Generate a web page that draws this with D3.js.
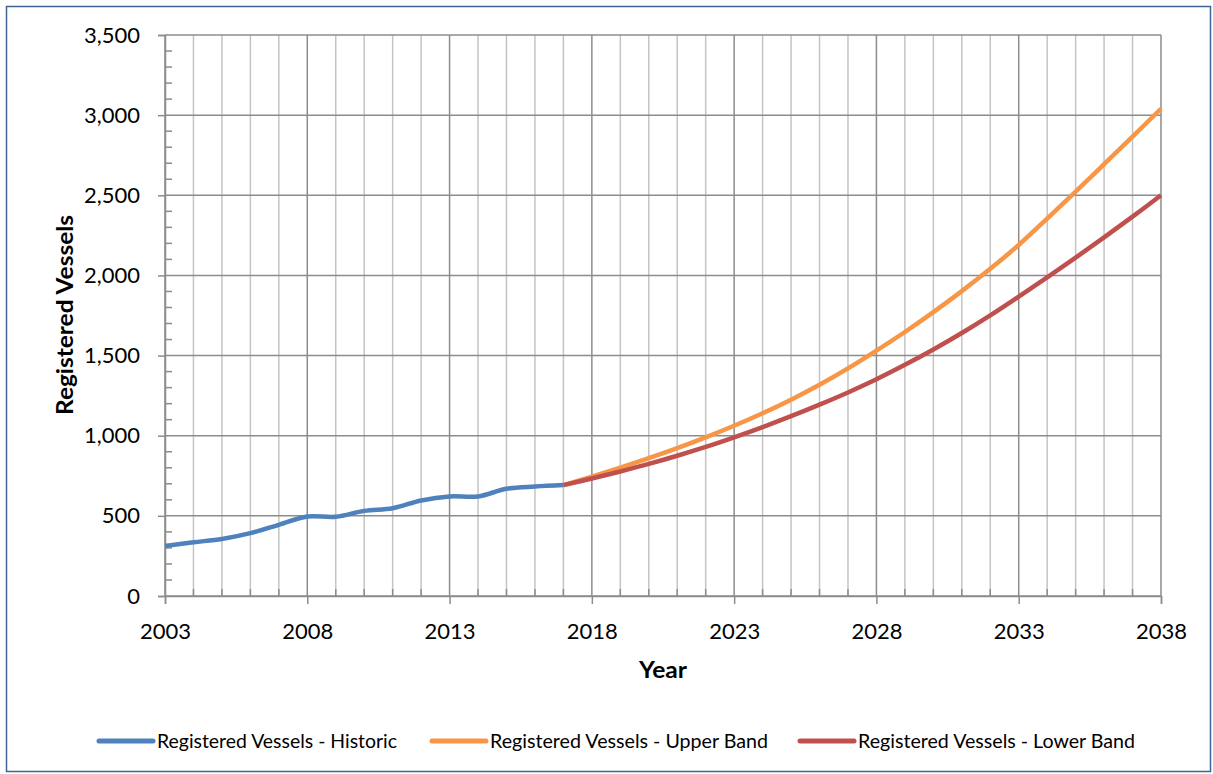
<!DOCTYPE html>
<html>
<head>
<meta charset="utf-8">
<script src="https://cdn.jsdelivr.net/npm/d3@7"></script>
<style>
  html, body { margin: 0; padding: 0; background: #fff; }
  svg { display: block; }
</style>
</head>
<body>
<svg id="chart" width="1213" height="774"></svg>
<script>
// ---- Data ----
const historicYears = [2003,2004,2005,2006,2007,2008,2009,2010,2011,2012,2013,2014,2015,2016,2017];
const historicValues = [312,335,356,392,444,496,494,531,548,596,621,621,669,683,692];

const bandYears = [2017,2018,2019,2020,2021,2022,2023,2024,2025,2026,2027,2028,2029,2030,2031,2032,2033,2034,2035,2036,2037,2038];
const upperValues = [692,745,801,860,923,990,1062,1140,1225,1318,1420,1531,1647,1771,1902,2041,2190,2355,2523,2694,2866,3040];
const lowerValues = [692,733,777,824,875,930,990,1054,1122,1194,1270,1352,1442,1538,1641,1751,1868,1988,2111,2237,2367,2500];

const xTickLabels = [2003,2008,2013,2018,2023,2028,2033,2038];
const yTickValues = [0,500,1000,1500,2000,2500,3000,3500];

const seriesNames = ["Registered Vessels - Historic","Registered Vessels - Upper Band","Registered Vessels - Lower Band"];
const seriesColors = ["#4f81bd","#f79646","#c0504d"];

// ---- Layout ----
const W = 1213, H = 774;
const plot = {left: 165, right: 1161, top: 35, bottom: 596};
const svg = d3.select("#chart");

// outer border
svg.append("rect").attr("x", 6.5).attr("y", 6.5).attr("width", W - 9).attr("height", H - 9)
  .attr("fill", "#fff").attr("stroke", "#3f6496").attr("stroke-width", 1.5);

const x = d3.scaleLinear().domain([2003, 2038]).range([plot.left, plot.right]);
const y = d3.scaleLinear().domain([0, 3500]).range([plot.bottom, plot.top]);

const fontTick = "Lato, 'Open Sans', sans-serif";

// vertical gridlines (every year)
const years = d3.range(2003, 2039);
svg.append("g").selectAll("line").data(years.filter(d => (d - 2003) % 5 !== 0)).join("line")
  .attr("x1", d => x(d)).attr("x2", d => x(d)).attr("y1", plot.top).attr("y2", plot.bottom)
  .attr("stroke", "#c4c4c4").attr("stroke-width", 1.5);
svg.append("g").selectAll("line").data(xTickLabels).join("line")
  .attr("x1", d => x(d)).attr("x2", d => x(d)).attr("y1", plot.top).attr("y2", plot.bottom)
  .attr("stroke", "#8c8c8c").attr("stroke-width", 1.5);
// horizontal gridlines
svg.append("g").selectAll("line").data(yTickValues).join("line")
  .attr("x1", plot.left).attr("x2", plot.right).attr("y1", d => y(d)).attr("y2", d => y(d))
  .attr("stroke", "#8c8c8c").attr("stroke-width", 1.5);

// Y axis
const yAxis = d3.axisLeft(y).tickValues(yTickValues).tickSize(7).tickPadding(18)
  .tickFormat(d3.format(","));
const gy = svg.append("g").attr("transform", `translate(${plot.left},0)`).call(yAxis);
gy.select(".domain").attr("stroke", "#8c8c8c").attr("stroke-width", 1.5);
gy.selectAll(".tick line").attr("stroke", "#8c8c8c").attr("stroke-width", 1.5);
gy.selectAll(".tick text").attr("font-family", fontTick).attr("font-size", 22).attr("fill", "#000");
// y minor ticks (inside)
const yMinor = d3.range(0, 3501, 100).filter(d => d % 500 !== 0);
svg.append("g").selectAll("line").data(yMinor).join("line")
  .attr("x1", plot.left).attr("x2", plot.left + 7).attr("y1", d => y(d)).attr("y2", d => y(d))
  .attr("stroke", "#8c8c8c").attr("stroke-width", 1.5);

// X axis
const xAxis = d3.axisBottom(x).tickValues(xTickLabels).tickSize(8).tickPadding(19)
  .tickFormat(d3.format("d"));
const gx = svg.append("g").attr("transform", `translate(0,${plot.bottom})`).call(xAxis);
gx.select(".domain").attr("stroke", "#8c8c8c").attr("stroke-width", 1.5);
gx.selectAll(".tick line").attr("stroke", "#8c8c8c").attr("stroke-width", 1.5);
gx.selectAll(".tick text").attr("font-family", fontTick).attr("font-size", 22).attr("fill", "#000")
  .attr("dy", "0.71em");
// x minor ticks (inside)
svg.append("g").selectAll("line").data(years.filter(d => (d - 2003) % 5 !== 0)).join("line")
  .attr("x1", d => x(d)).attr("x2", d => x(d)).attr("y1", plot.bottom).attr("y2", plot.bottom - 7)
  .attr("stroke", "#8c8c8c").attr("stroke-width", 1.5);

// Axis titles
svg.append("text").attr("transform", `translate(73,${315}) rotate(-90)`)
  .attr("text-anchor", "middle").attr("font-family", fontTick).attr("font-weight", "bold")
  .attr("font-size", 22).attr("textLength", 200).attr("lengthAdjust", "spacingAndGlyphs")
  .text("Registered Vessels");
svg.append("text").attr("x", 663).attr("y", 678)
  .attr("text-anchor", "middle").attr("font-family", fontTick).attr("font-weight", "bold")
  .attr("font-size", 22).attr("textLength", 48).attr("lengthAdjust", "spacingAndGlyphs")
  .text("Year");

// Lines
const line = d3.line().x(d => x(d[0])).y(d => y(d[1])).curve(d3.curveCatmullRom.alpha(0.5));
const series = [
  d3.zip(historicYears, historicValues),
  d3.zip(bandYears, upperValues),
  d3.zip(bandYears, lowerValues)
];
svg.append("g").selectAll("path").data(series).join("path")
  .attr("d", line).attr("fill", "none")
  .attr("stroke", (d, i) => seriesColors[i]).attr("stroke-width", 4.5)
  .attr("stroke-linecap", "butt").attr("stroke-linejoin", "round");

// Legend
const legendX = [97, 430, 798];
const legendTextLen = [240, 278, 277];
const lg = svg.append("g").selectAll("g").data(seriesNames).join("g")
  .attr("transform", (d, i) => `translate(${legendX[i]},741)`);
lg.append("line").attr("x1", 2).attr("x2", 56).attr("y1", 0).attr("y2", 0)
  .attr("stroke", (d, i) => seriesColors[i]).attr("stroke-width", 5).attr("stroke-linecap", "round");
lg.append("text").attr("x", 60).attr("y", 6.5).attr("font-family", fontTick)
  .attr("font-size", 18.5).attr("fill", "#000")
  .attr("textLength", (d, i) => legendTextLen[i]).attr("lengthAdjust", "spacingAndGlyphs")
  .text(d => d);
</script>
</body>
</html>
